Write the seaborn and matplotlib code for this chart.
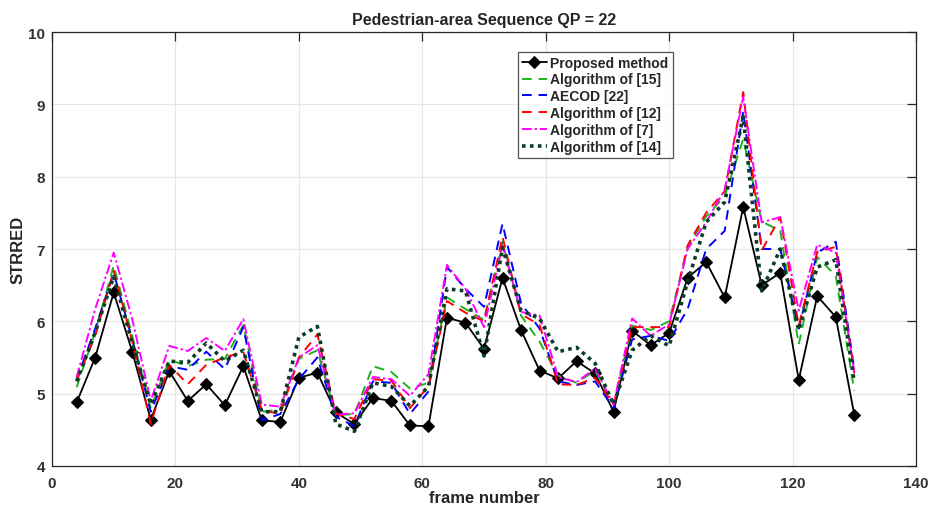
import numpy as np
import pandas as pd
import matplotlib
matplotlib.use("Agg")
import matplotlib.pyplot as plt
import seaborn as sns

frames = list(range(4, 131, 3))

proposed = [4.88, 5.50, 6.40, 5.58, 4.64, 5.31, 4.90, 5.13, 4.84, 5.38,
            4.63, 4.61, 5.22, 5.29, 4.74, 4.58, 4.94, 4.90, 4.56, 4.55,
            6.05, 5.98, 5.62, 6.60, 5.88, 5.32, 5.21, 5.45, 5.28, 4.75,
            5.87, 5.67, 5.84, 6.60, 6.82, 6.33, 7.58, 6.50, 6.67, 5.19,
            6.35, 6.06, 4.71]
alg15 = [5.09, 5.85, 6.77, 5.80, 4.80, 5.47, 5.38, 5.47, 5.48, 5.95,
         4.75, 4.78, 5.48, 5.60, 4.70, 4.72, 5.38, 5.30, 5.07, 5.15,
         6.33, 6.17, 6.02, 7.10, 6.08, 5.72, 5.25, 5.15, 5.32, 4.85,
         5.94, 5.88, 6.00, 7.02, 7.45, 7.73, 8.52, 7.38, 7.25, 5.68,
         6.89, 6.63, 5.04]
aecod = [5.20, 5.90, 6.67, 5.75, 4.75, 5.38, 5.33, 5.58, 5.34, 5.92,
         4.63, 4.72, 5.20, 5.50, 4.68, 4.55, 5.17, 5.15, 4.72, 5.03,
         6.75, 6.45, 6.20, 7.35, 6.25, 5.90, 5.17, 5.12, 5.17, 4.80,
         5.75, 5.80, 5.73, 6.17, 7.00, 7.25, 8.90, 7.00, 7.00, 5.90,
         6.95, 7.10, 5.33]
alg12 = [5.18, 5.80, 6.70, 5.72, 4.58, 5.40, 5.13, 5.40, 5.50, 5.58,
         4.77, 4.72, 5.50, 5.82, 4.72, 4.65, 5.20, 5.18, 4.80, 5.10,
         6.28, 6.12, 6.00, 7.17, 6.10, 5.95, 5.13, 5.12, 5.22, 4.85,
         5.92, 5.92, 5.92, 7.05, 7.50, 7.80, 9.17, 6.98, 7.44, 5.94,
         6.96, 7.03, 5.28]
alg7 = [5.23, 6.17, 6.95, 6.03, 4.90, 5.66, 5.59, 5.77, 5.59, 6.03,
        4.85, 4.82, 5.50, 5.67, 4.71, 4.73, 5.23, 5.20, 4.97, 5.27,
        6.78, 6.45, 5.92, 7.05, 6.13, 6.08, 5.23, 5.16, 5.35, 4.85,
        6.04, 5.80, 5.96, 7.00, 7.37, 7.82, 9.10, 7.37, 7.44, 6.15,
        7.06, 6.95, 5.30]
alg14 = [5.17, 5.85, 6.62, 5.70, 4.85, 5.45, 5.43, 5.70, 5.45, 5.60,
         4.75, 4.75, 5.78, 5.93, 4.58, 4.48, 5.15, 5.10, 4.83, 5.10,
         6.45, 6.42, 5.52, 7.02, 6.15, 6.04, 5.58, 5.64, 5.42, 4.85,
         5.60, 5.80, 5.66, 6.55, 7.37, 7.65, 8.83, 6.42, 7.00, 5.88,
         6.75, 6.85, 5.16]

labels = ["Proposed method", "Algorithm of [15]", "AECOD [22]",
          "Algorithm of [12]", "Algorithm of [7]", "Algorithm of [14]"]
series = [proposed, alg15, aecod, alg12, alg7, alg14]

sns.set_style("white")
plt.rcParams['font.family'] = ['Liberation Sans', 'DejaVu Sans']
plt.rcParams['font.weight'] = 'bold'

fig = plt.figure(figsize=(9.38, 5.10), dpi=100)
ax = fig.add_axes([52/938, 1 - 467/510, (916-52)/938, (467-33)/510])

styles = [
    dict(color="black", linestyle="-", linewidth=1.3, marker="D", markersize=6.5,
         markerfacecolor="black", markeredgecolor="black"),
    dict(color="#1db31d", linestyle=(0, (5, 3.5)), linewidth=1.4),
    dict(color="#0000ff", linestyle=(0, (5, 3.5)), linewidth=1.4),
    dict(color="#ff0000", linestyle=(0, (5, 3.5)), linewidth=1.4),
    dict(color="#ff00ff", linestyle=(0, (5, 1.5, 1.2, 1.5)), linewidth=1.4),
    dict(color="#0b3d26", linestyle=(0, (1, 1.2)), linewidth=2.6),
]

for vals, lab, st in zip(series, labels, styles):
    df = pd.DataFrame({"frame": frames, "val": vals})
    sns.lineplot(data=df, x="frame", y="val", ax=ax, label=lab, **st)

ax.set_xlim(0, 140)
ax.set_ylim(4, 10)
ax.set_xticks(range(0, 141, 20))
ax.set_yticks(range(4, 11, 1))
ax.grid(True, color="#e6e6e6", linewidth=0.8)
ax.tick_params(direction="in", length=6.5, width=0.9, top=True, right=True,
               colors="#262626", labelcolor="#333333")
ax.tick_params(axis="x", pad=7)
ax.tick_params(axis="y", pad=5)
ax.set_xticklabels([str(v) for v in range(0, 141, 20)], fontsize=11, fontweight="bold")
ax.set_yticklabels([str(v) for v in range(4, 11, 1)], fontsize=11, fontweight="bold")
for sp in ax.spines.values():
    sp.set_color("#262626")
    sp.set_linewidth(0.9)

ax.set_xlabel("frame number", fontsize=12, fontweight="bold", labelpad=0)
ax.set_ylabel("STRRED", fontsize=12, fontweight="bold", labelpad=2)
ax.set_title("Pedestrian-area Sequence QP = 22", fontsize=11.5, fontweight="bold", pad=6)

leg = ax.legend(loc="upper left", bbox_to_anchor=(0.539, 0.955), fontsize=10,
                frameon=True, fancybox=False, handlelength=1.8, handletextpad=0.25,
                borderpad=0.3, labelspacing=0.2, borderaxespad=0)
leg.get_frame().set_edgecolor("#262626")
leg.get_frame().set_linewidth(0.9)
for t in leg.get_texts():
    t.set_fontweight("bold")

fig.savefig("out.png", dpi=100)
